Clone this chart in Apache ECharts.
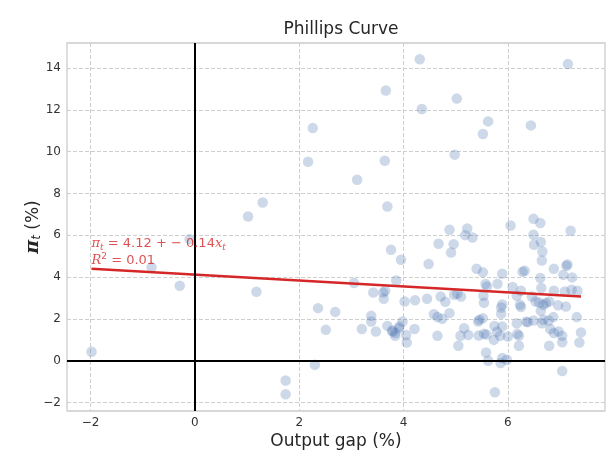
<!DOCTYPE html>
<html>
<head>
<meta charset="utf-8">
<script src="https://cdn.jsdelivr.net/npm/echarts@6/dist/echarts.min.js"></script>
<style>
html,body{margin:0;padding:0;background:#fff;}
#chart{width:616px;height:465px;}
</style>
</head>
<body>
<div id="chart"></div>
<script>
// Output gap (%) values
const gapX = [
  2.26, 2.17, 1.30, 1.02, -0.10,
  4.31, 7.15, 3.66, 5.02, 4.35, 5.62, 6.44, 5.52, 4.98, 3.64, 3.11, 3.69,
  6.05, 6.49, 6.62, 7.20, 4.88, 5.22, 5.18, 5.32, 4.67, 4.96, 6.49, 6.63, 6.50, 3.76,
  -0.83, -0.29, 1.18, -1.98, 2.36, 2.69, 2.51, 2.30, 1.74, 1.74,
  4.91, 6.66, 3.95, 4.48, 6.65, 5.40, 5.52, 5.89, 6.28, 6.32, 6.88, 7.14, 7.12,
  7.06, 7.23, 6.62, 3.86, 3.05, 5.57, 5.60, 5.80, 6.09, 6.25, 6.64, 6.88, 7.09,
  7.22, 7.33, 3.42, 3.61, 3.65, 3.62, 4.02, 4.22, 4.45, 4.71, 4.80, 4.97, 5.03,
  5.10, 5.53, 5.54, 6.17, 6.46, 6.53, 6.60, 6.68, 6.73, 6.79, 6.96, 7.11, 5.89,
  5.87, 6.25, 6.63, 3.38, 3.38, 3.20, 3.47, 3.69, 3.78, 3.84, 3.92, 3.98, 4.05,
  4.06, 4.21, 4.58, 4.65, 4.74, 4.88, 4.65, 5.05, 5.09, 5.16, 5.24, 5.43, 5.45,
  5.52, 5.44, 5.54, 5.59, 5.58, 5.62, 5.74, 5.73, 5.79, 5.87, 5.89, 5.85, 6.00,
  5.89, 5.86, 5.98, 5.75, 6.17, 6.21, 6.21, 6.18, 6.35, 6.38, 6.49, 6.68, 6.78,
  6.87, 6.81, 6.88, 6.97, 7.04, 7.04, 6.79, 7.32, 7.40, 7.37, 7.04,
  3.79, 3.84, 3.91, 6.65, 6.23
];
// Inflation (%) values
const inflY = [
  11.13, 9.52, 7.57, 6.90, 5.82,
  14.42, 14.19, 12.93, 12.54, 12.04, 11.45, 11.26, 10.85, 9.86, 9.57, 8.66, 7.38,
  6.47, 6.79, 6.59, 6.22, 6.27, 6.33, 6.01, 5.90, 5.60, 5.58, 6.03, 5.68, 5.55, 5.31,
  4.47, 3.59, 3.30, 0.43, 2.52, 2.34, 1.48, -0.19, -0.94, -1.60,
  5.18, 5.23, 4.83, 4.63, 4.80, 4.40, 4.23, 4.16, 4.26, 4.31, 4.40, 4.61, 4.55,
  4.11, 3.99, 3.96, 3.84, 3.72, 3.67, 3.56, 3.68, 3.53, 3.35, 3.48, 3.35, 3.32,
  3.40, 3.35, 3.27, 3.27, 3.35, 2.97, 2.84, 2.90, 2.97, 3.08, 2.82, 3.16, 3.21,
  3.08, 3.11, 2.78, 3.11, 3.08, 2.84, 2.79, 2.68, 2.76, 2.84, 2.66, 2.60, 2.69,
  2.55, 2.57, 2.39, 2.15, 1.88, 1.52, 1.40, 1.67, 1.45, 1.20, 1.64, 1.88, 1.23,
  0.88, 1.52, 2.23, 2.09, 2.01, 2.28, 1.20, 0.72, 1.20, 1.56, 1.23, 1.88, 1.96,
  2.04, 1.21, 1.29, 1.26, 0.40, 0.00, 1.67, 1.00, 1.39, 2.25, 1.64, 1.20, 1.16,
  0.13, -0.11, 0.05, -1.50, 1.80, 1.20, 0.72, 1.29, 1.87, 1.85, 1.93, 1.96, 1.93,
  2.09, 1.52, 1.33, 1.40, 1.20, 0.89, 0.72, 2.09, 1.36, 0.88, -0.49,
  1.40, 1.33, 1.56, 1.80, 2.68
];
// Fitted line end points
const fitX = [-1.98, 7.40];
const fitY = [4.40, 3.08];
const fitLabel = ['π', 't', ' = 4.12 + − 0.14', 'x', 't'];
const r2Label = ['R', '2', ' = 0.01'];
const xTicks = [-2, 0, 2, 4, 6];
const yTicks = [-2, 0, 2, 4, 6, 8, 10, 12, 14];
const annotPos = [-1.98, 5.22];

const points = gapX.map((x, i) => [x, inflY[i]]);
const fitLine = fitX.map((x, i) => [x, fitY[i]]);
const fmt = v => (v < 0 ? '\u2212' + Math.abs(v) : String(v));

const chart = echarts.init(document.getElementById('chart'), null, {renderer: 'canvas'});
const gridColor = '#cfcfcf';
chart.setOption({
  backgroundColor: '#fff',
  animation: false,
  textStyle: {fontFamily: 'DejaVu Sans'},
  title: {
    text: 'Phillips Curve',
    left: 336, top: 16, textAlign: 'center',
    textStyle: {fontSize: 17, fontWeight: 'normal', color: '#262626', fontFamily: 'DejaVu Sans'}
  },
  grid: {left: 67, right: 11, top: 43, bottom: 54, show: true, borderColor: '#cccccc', borderWidth: 1.3, backgroundColor: '#fff'},
  xAxis: {
    type: 'value', min: -2.45, max: 7.86,
    name: 'Output gap (%)', nameLocation: 'middle', nameGap: 22, nameMoveOverlap: false,
    nameTextStyle: {fontSize: 17, color: '#262626', fontFamily: 'DejaVu Sans'},
    axisLine: {show: false},
    axisTick: {show: false, customValues: xTicks},
    axisLabel: {customValues: xTicks, formatter: fmt, color: '#333', fontSize: 12, margin: 6, fontFamily: 'DejaVu Sans'},
    splitLine: {show: true, lineStyle: {color: gridColor, type: [4, 2], width: 1}}
  },
  yAxis: {
    type: 'value', min: -2.4, max: 15.2,
    name: '{pi|π}{sub|t}{n| (%)}', nameLocation: 'middle', nameGap: 24, nameRotate: 90, nameMoveOverlap: false,
    nameTextStyle: {
      fontSize: 17, color: '#262626', fontFamily: 'DejaVu Sans',
      rich: {
        pi: {fontSize: 19, fontStyle: 'italic', fontWeight: 'bold', color: '#262626', fontFamily: 'DejaVu Serif'},
        sub: {fontSize: 12, fontStyle: 'italic', color: '#262626', verticalAlign: 'bottom', fontFamily: 'DejaVu Sans'},
        n: {fontSize: 17, color: '#262626', fontFamily: 'DejaVu Sans'}
      }
    },
    axisLine: {show: false},
    axisTick: {show: false, customValues: yTicks},
    axisLabel: {customValues: yTicks, formatter: fmt, color: '#333', fontSize: 12, margin: 6, fontFamily: 'DejaVu Sans'},
    splitLine: {show: true, lineStyle: {color: gridColor, type: [4, 2], width: 1}}
  },
  series: [
    {
      type: 'scatter', data: points, symbolSize: 10.5,
      itemStyle: {color: 'rgba(76,114,176,0.35)'},
      z: 3,
      markLine: {
        silent: true, symbol: 'none', label: {show: false},
        lineStyle: {color: '#000', width: 2, type: 'solid'},
        data: [{xAxis: 0}, {yAxis: 0}]
      }
    },
    {
      type: 'line', data: fitLine, symbol: 'none', z: 4,
      lineStyle: {color: '#d62728', width: 2.5}
    },
    {
      type: 'scatter', data: [annotPos], symbolSize: 0, z: 5, silent: true,
      label: {
        show: true, position: 'right', distance: 0,
        formatter: '{m|' + fitLabel[0] + '}{s|' + fitLabel[1] + '}{n|' + fitLabel[2] + '}{m|' + fitLabel[3] + '}{s|' + fitLabel[4] + '}\n{m|' + r2Label[0] + '}{sup|' + r2Label[1] + '}{n|' + r2Label[2] + '}',
        rich: {
          m: {fontSize: 13, fontStyle: 'italic', color: '#d62728', fontFamily: 'DejaVu Serif', lineHeight: 17},
          n: {fontSize: 13, color: '#d62728', fontFamily: 'DejaVu Sans', lineHeight: 17},
          s: {fontSize: 9, fontStyle: 'italic', color: '#d62728', fontFamily: 'DejaVu Serif', verticalAlign: 'bottom', lineHeight: 17},
          sup: {fontSize: 9, color: '#d62728', fontFamily: 'DejaVu Sans', verticalAlign: 'top', lineHeight: 17}
        }
      }
    }
  ]
});
</script>
</body>
</html>
